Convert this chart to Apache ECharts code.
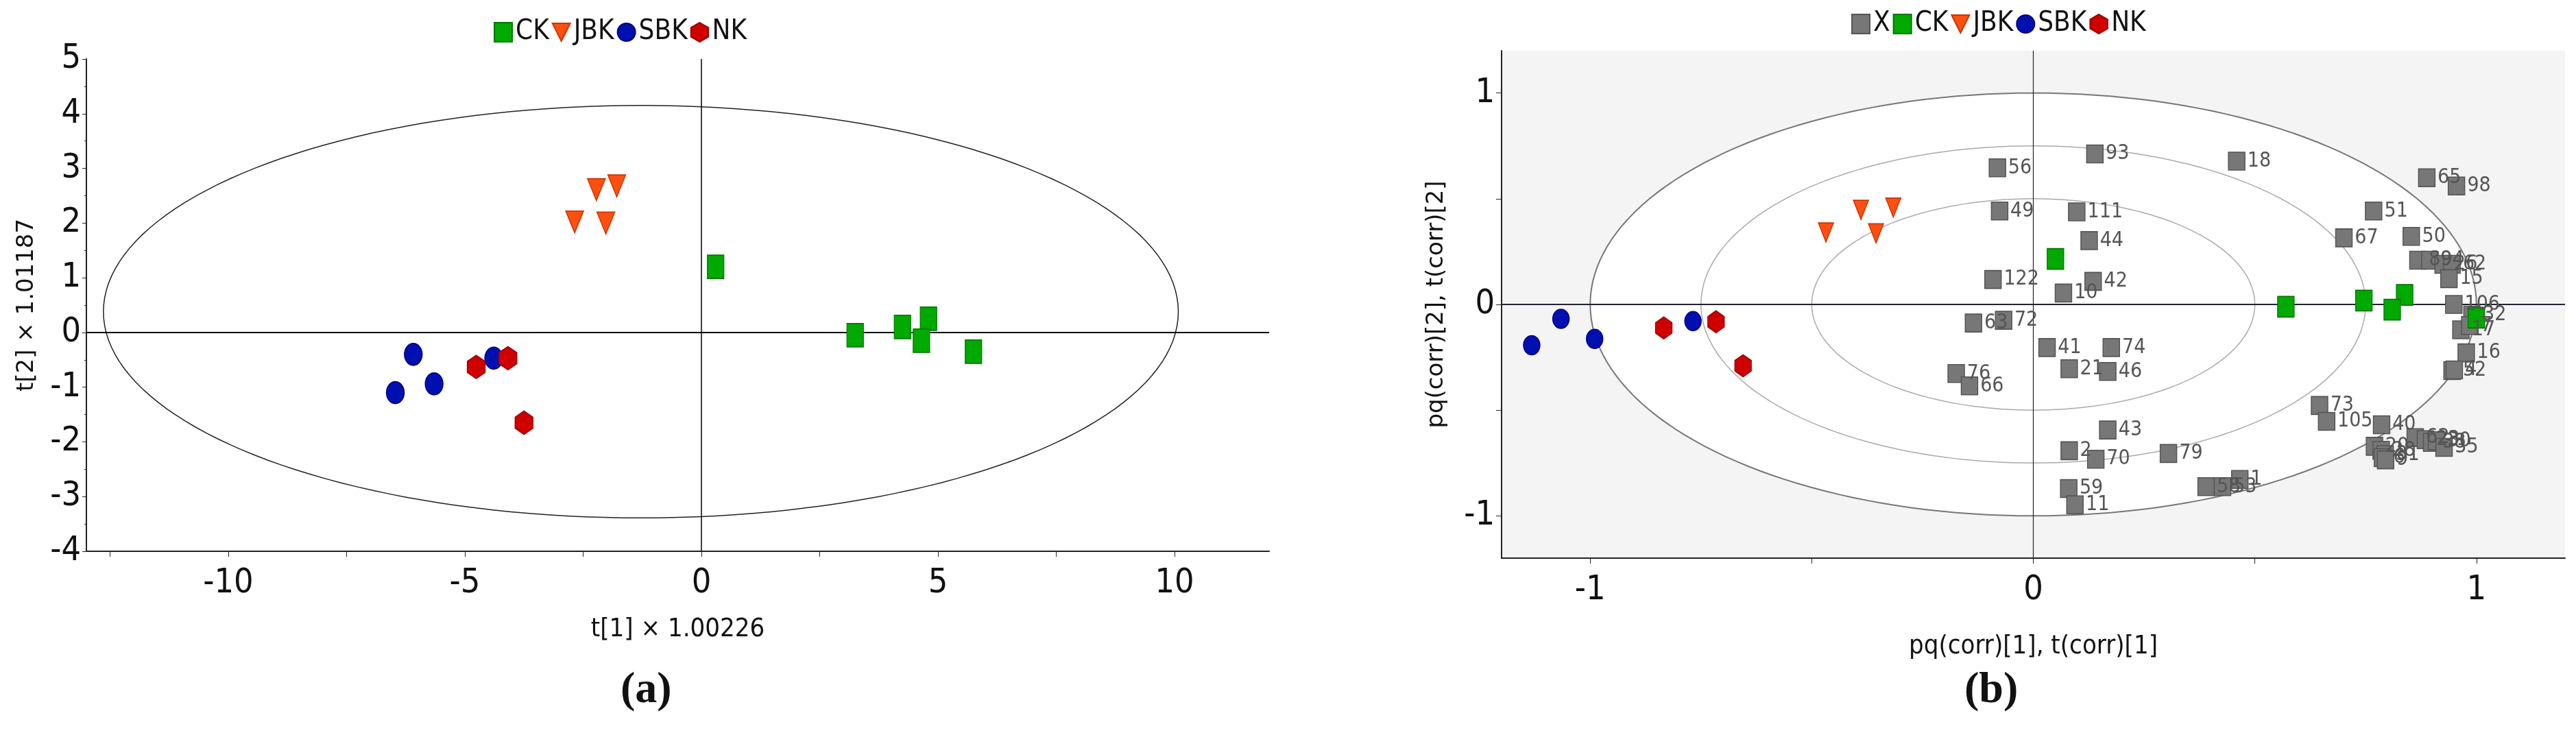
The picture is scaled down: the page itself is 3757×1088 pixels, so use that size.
<!DOCTYPE html>
<html><head><meta charset="utf-8">
<script src="https://cdn.jsdelivr.net/npm/echarts@6/dist/echarts.min.js"></script>
<style>body{margin:0;background:#fff}#c{width:3757px;height:1088px}</style>
</head><body><div id="c"></div>
<script>
// panel (a) scores
const ckA = [[0.3, 1.2], [3.25, -0.05], [4.25, 0.1], [4.8, 0.25], [4.65, -0.15], [5.75, -0.35]];
const jbkA = [[-2.22, 2.61], [-1.79, 2.68], [-2.68, 2.02], [-2.02, 2.0]];
const sbkA = [[-6.09, -0.4], [-4.39, -0.47], [-5.65, -0.94], [-6.47, -1.1]];
const nkA = [[-4.76, -0.63], [-4.09, -0.47], [-3.75, -1.65]];
const ellipseA = [[-1.28, 0.38, 11.36, 3.77]]; // cx, cy, rx, ry
const xTicksA = [-10, -5, 0, 5, 10];
const xMinorA = [-12.5, -7.5, -2.5, 2.5, 7.5];

// panel (b) correlation loadings
const xNames = ['56','93','18','65','98','49','111','51','44','67','50','89','94','26','62','15','122','42','10','106','32','17','7','63','72','41','74','21','46','76','66','16','52','4','73','105','40','43','62','23','38','30','35','20','28','31','2','70','79','59','11','1','58','53','6','9'];
const xVals = [[-0.081,0.646],[0.139,0.712],[0.459,0.678],[0.888,0.599],[0.955,0.56],[-0.076,0.442],[0.098,0.438],[0.768,0.442],[0.126,0.302],[0.701,0.315],[0.853,0.322],[0.868,0.209],[0.895,0.209],[0.925,0.19],[0.945,0.19],[0.938,0.122],[-0.091,0.118],[0.135,0.109],[0.068,0.054],[0.949,0.0],[0.99,-0.05],[0.965,-0.12],[0.985,-0.1],[-0.135,-0.088],[-0.067,-0.075],[0.031,-0.204],[0.176,-0.204],[0.081,-0.304],[0.168,-0.317],[-0.174,-0.327],[-0.144,-0.385],[0.977,-0.229],[0.945,-0.313],[0.95,-0.31],[0.646,-0.478],[0.662,-0.553],[0.786,-0.569],[0.168,-0.594],[0.862,-0.63],[0.885,-0.64],[0.899,-0.653],[0.91,-0.645],[0.927,-0.676],[0.77,-0.671],[0.785,-0.69],[0.794,-0.71],[0.081,-0.692],[0.141,-0.732],[0.305,-0.705],[0.08,-0.871],[0.094,-0.948],[0.466,-0.828],[0.39,-0.862],[0.427,-0.862],[0.788,-0.725],[0.795,-0.735]];
const ckB = [[0.05,0.215],[0.57,-0.011],[0.746,0.018],[0.838,0.045],[0.81,-0.025],[1.0,-0.063]];
const jbkB = [[-0.389,0.447],[-0.316,0.458],[-0.468,0.34],[-0.355,0.336]];
const sbkB = [[-1.066,-0.068],[-1.132,-0.193],[-0.99,-0.163],[-0.768,-0.079]];
const nkB = [[-0.834,-0.111],[-0.716,-0.082],[-0.655,-0.29]];
const circlesB = [[0,0,1,1],[0,0,0.75,0.75],[0,0,0.5,0.5]];
const ticksB = [-1, 0, 1];
const xTickMarksB = [-1, -0.5, 0, 0.5, 1];
const yTickMarksB = [-1, -0.5, 0, 0.5, 1];

const tri = 'path://M0,0L10,0L5,10Z';
const hex = 'path://M5,0L10,2.9L10,8.1L5,11L0,8.1L0,2.9Z';
const NARROW = 'DejaVu Sans Condensed, Liberation Sans, sans-serif';
const cGreen = '#00aa00', cOrange = '#ff4f10', cBlue = '#0010b0', cRed = '#d00000', cGray = '#777777';

function ell(idx, data, color, width) {
  return {
    type: 'custom', xAxisIndex: idx, yAxisIndex: idx, data: data, silent: true, z: 1,
    renderItem: function (params, api) {
      const cx = api.value(0), cy = api.value(1), rx = api.value(2), ry = api.value(3);
      const pts = [];
      for (let i = 0; i <= 180; i++) {
        const t = i / 180 * Math.PI * 2;
        pts.push(api.coord([cx + rx * Math.cos(t), cy + ry * Math.sin(t)]));
      }
      return { type: 'polyline', shape: { points: pts }, style: { stroke: color, lineWidth: width, fill: null } };
    }
  };
}
function sc(idx, name, data, symbol, color, size, border) {
  return { type: 'scatter', name: name, xAxisIndex: idx, yAxisIndex: idx, data: data, symbol: symbol,
    symbolSize: size, z: 3, itemStyle: { color: color, opacity: 1, borderColor: border, borderWidth: 1.5 } };
}
const axisLine = { show: true, onZero: false, lineStyle: { color: '#222', width: 2 } };
const tickLab = { fontFamily: NARROW, fontSize: 50, color: '#111' };
const nameStyle = { fontSize: 38, fontFamily: NARROW, color: '#111' };
const legText = { fontSize: 40, fontFamily: NARROW, color: '#111' };

const chart = echarts.init(document.getElementById('c'));
chart.setOption({
  animation: false,
  backgroundColor: '#fff',
  legend: [
    { left: 715, top: 22, itemGap: 4, itemWidth: 26, itemHeight: 28, textStyle: legText, data: ['CK', 'JBK', 'SBK', 'NK'] },
    { left: 2695, top: 10, itemGap: 4, itemWidth: 26, itemHeight: 28, textStyle: legText, data: ['X', 'CKb', 'JBKb', 'SBKb', 'NKb'],
      formatter: n => n.replace(/b$/, '') }
  ],
  grid: [
    { left: 126, top: 86, width: 1725, height: 718, show: false },
    { left: 2190, top: 74, width: 1551, height: 740, show: true, backgroundColor: '#f4f4f4', borderWidth: 0 }
  ],
  xAxis: [
    { gridIndex: 0, type: 'value', min: -13, max: 12, axisLine: axisLine,
      axisTick: { show: true, length: 8, customValues: xTicksA.concat(xMinorA) }, splitLine: { show: false },
      axisLabel: { ...tickLab, margin: 22, customValues: xTicksA },
      name: 't[1] × 1.00226', nameLocation: 'middle', nameGap: 95, nameTextStyle: nameStyle },
    { gridIndex: 1, type: 'value', min: -1.2, max: 1.2, axisLine: axisLine,
      axisTick: { show: true, length: 8, customValues: xTickMarksB }, splitLine: { show: false },
      axisLabel: { ...tickLab, margin: 22, customValues: ticksB },
      name: 'pq(corr)[1], t(corr)[1]', nameLocation: 'middle', nameGap: 110, nameTextStyle: nameStyle }
  ],
  yAxis: [
    { gridIndex: 0, type: 'value', min: -4, max: 5, interval: 1, axisLine: axisLine, axisTick: { show: true, length: 6 },
      minorTick: { show: true, splitNumber: 2 }, splitLine: { show: false }, axisLabel: { ...tickLab, margin: 8 },
      name: 't[2] × 1.01187', nameLocation: 'middle', nameGap: 70, nameTextStyle: { fontSize: 34, fontFamily: 'DejaVu Sans', color: '#111' } },
    { gridIndex: 1, type: 'value', min: -1.2, max: 1.2, axisLine: axisLine,
      axisTick: { show: true, length: 8, customValues: yTickMarksB }, splitLine: { show: false },
      axisLabel: { ...tickLab, margin: 10, customValues: ticksB },
      name: 'pq(corr)[2], t(corr)[2]', nameLocation: 'middle', nameGap: 78, nameTextStyle: { fontSize: 34, fontFamily: 'DejaVu Sans', color: '#111' } }
  ],
  graphic: [
    { type: 'text', left: 905, top: 975, style: { text: '(a)', fontSize: 64, fontFamily: 'Liberation Serif', fontWeight: 'bold', fill: '#111' } },
    { type: 'text', left: 2865, top: 975, style: { text: '(b)', fontSize: 64, fontFamily: 'Liberation Serif', fontWeight: 'bold', fill: '#111' } }
  ],
  series: [
    // panel (a)
    ell(0, ellipseA, '#222', 1.5),
    { type: 'line', xAxisIndex: 0, yAxisIndex: 0, data: [[-13, 0], [12, 0]], symbol: 'none', lineStyle: { color: '#000', width: 2 }, silent: true, z: 2 },
    { type: 'line', xAxisIndex: 0, yAxisIndex: 0, data: [[0, -4], [0, 5]], symbol: 'none', lineStyle: { color: '#000', width: 1.5 }, silent: true, z: 2 },
    sc(0, 'CK', ckA, 'rect', cGreen, [24, 34], '#007700'),
    sc(0, 'JBK', jbkA, tri, cOrange, [26, 32], '#cc3300'),
    sc(0, 'SBK', sbkA, 'circle', cBlue, [26, 32], '#000080'),
    sc(0, 'NK', nkA, hex, cRed, [26, 34], '#990000'),
    // panel (b)
    { type: 'custom', xAxisIndex: 1, yAxisIndex: 1, data: [circlesB[0]], silent: true, z: 0,
      renderItem: function (params, api) {
        const pts = [];
        for (let i = 0; i <= 180; i++) { const t = i / 180 * Math.PI * 2; pts.push(api.coord([api.value(2) * Math.cos(t), api.value(3) * Math.sin(t)])); }
        return { type: 'polygon', shape: { points: pts }, style: { fill: '#fff', stroke: null } };
      } },
    ell(1, circlesB.slice(0, 1), '#777', 2),
    ell(1, circlesB.slice(1), '#aaa', 1.5),
    { type: 'line', xAxisIndex: 1, yAxisIndex: 1, data: [[-1.2, 0], [1.2, 0]], symbol: 'none', lineStyle: { color: '#223', width: 2 }, silent: true, z: 2 },
    { type: 'line', xAxisIndex: 1, yAxisIndex: 1, data: [[0, -1.2], [0, 1.2]], symbol: 'none', lineStyle: { color: '#223', width: 1.2 }, silent: true, z: 2 },
    { ...sc(1, 'X', xVals.map((v, i) => ({ name: xNames[i], value: v })), 'rect', cGray, [24, 26], '#555'),
      label: { show: true, position: 'right', distance: 3, formatter: p => p.name, fontFamily: NARROW, fontSize: 30, color: '#555' } },
    sc(1, 'CKb', ckB, 'rect', cGreen, [24, 30], '#007700'),
    sc(1, 'JBKb', jbkB, tri, cOrange, [22, 28], '#cc3300'),
    sc(1, 'SBKb', sbkB, 'circle', cBlue, [24, 28], '#000080'),
    sc(1, 'NKb', nkB, hex, cRed, [24, 32], '#990000')
  ]
});
</script></body></html>
